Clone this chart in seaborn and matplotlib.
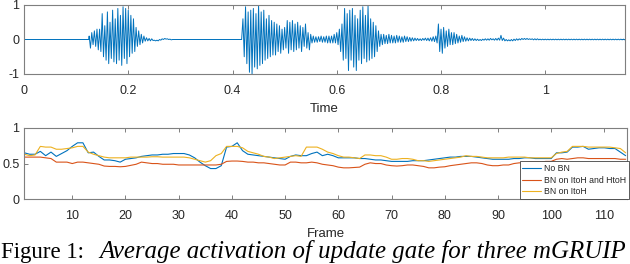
import numpy as np
import pandas as pd
import seaborn as sns
import matplotlib
matplotlib.use('Agg')
import matplotlib.pyplot as plt

# ---- top panel: waveform, read as upper / lower peak per 5 ms bin ----
wave_start = 0.125
wave_step = 0.005
wave_end = 1.153
wave_hi = [
    .10, .20, .25, .30, .30, .75, .40, .80, .50, .85,
    .60, .90, .70, .95, .90, .85, .70, .60, .35, .25,
    .15, .10, .05, .03, .02, -.02, -.02, .00, .02, .03,
    .02, .01] + [0.0] * 27 + [
    .60, .95, .80, .85, .90, .75, 1.0, .80, .85, .60,
    .70, .55, .50, .45, .40, .30, .35, .55, .50, .55,
    .45, .50, .40, .35, .45, .20, .15, .10, .08, .08,
    .10, .08, .10, .10, .10, .15, .20, .30, .45, .90,
    .75, .85, .90, .70, .60, .85, .95, .70, .97, .60,
    .50, .40, .25, .15, .15, .12, .15, .12, .10, .12,
    .10, .08, .10, .08, .06, .05, .04, .03, .02, .03,
    .04, .04, .05, .08, .10, .45, .30, .35, .25, .30,
    .20, .20, .15, .10, .12, .08, .05, .04, .03, .02,
    .01, .00, .01, .02, .02, .03, .02, .03, .04, .12,
    .04, .00, -.01, .00, .01, .02, .02, .03, .03, .03,
    .02, .02, .02, .02, .01] + [0.01] * 32
wave_lo = [
    -.25, -.15, -.20, -.30, -.35, -.50, -.60, -.70, -.55, -.65,
    -.70, -.60, -.75, -.55, -.70, -.50, -.40, -.35, -.20, -.15,
    -.10, -.05, -.04, -.04, -.03, -.04, -.04, -.02, .00, .01,
    .00, -.01] + [0.0] * 27 + [
    -.50, -.70, -.95, -1.0, -.80, -.85, -.75, -.70, -.60, -.55,
    -.50, -.45, -.45, -.35, -.40, -.30, -.25, -.40, -.30, -.35,
    -.30, -.25, -.35, -.20, -.25, -.30, -.10, -.08, -.08, -.06,
    -.08, -.08, -.10, -.10, -.10, -.10, -.15, -.35, -.60, -.55,
    -.90, -.60, -.80, -.90, -.60, -.70, -.55, -.65, -.60, -.55,
    -.50, -.35, -.20, -.15, -.12, -.12, -.10, -.10, -.10, -.08,
    -.08, -.08, -.06, -.06, -.05, -.04, -.03, -.03, -.03, -.02,
    -.03, -.04, -.05, -.06, -.10, -.35, -.40, -.25, -.20, -.15,
    -.15, -.12, -.10, -.08, -.06, -.05, -.04, -.03, -.03, -.03,
    -.03, -.03, -.02, -.02, -.02, -.01, -.02, -.02, -.02, -.03,
    -.04, -.04, -.04, -.04, -.03, -.02, -.01, .00, .00, .00,
    .00, -.01, -.01, -.01, -.01] + [-0.01] * 32

# ---- bottom panel: average update-gate activation per frame ----
frames = list(range(1, 115))
no_bn = [
    .65, .63, .63, .67, .61, .66, .60, .64, .68, .74,
    .79, .79, .65, .66, .60, .55, .55, .54, .52, .56,
    .57, .58, .60, .61, .62, .62, .63, .63, .64, .64,
    .64, .62, .58, .52, .47, .43, .43, .47, .73, .74,
    .79, .68, .63, .62, .61, .60, .59, .58, .57, .56,
    .60, .62, .61, .61, .64, .66, .61, .63, .61, .58,
    .58, .58, .58, .57, .57, .56, .55, .55, .54, .53,
    .53, .53, .53, .54, .54, .54, .55, .56, .57, .58,
    .59, .59, .60, .60, .60, .59, .58, .57, .56, .56,
    .56, .56, .57, .57, .58, .58, .57, .57, .57, .57,
    .65, .65, .66, .73, .73, .74, .70, .71, .72, .72,
    .71, .71, .66, .61]
bn_both = [
    .59, .59, .59, .59, .58, .57, .52, .52, .52, .50,
    .52, .52, .51, .50, .49, .465, .46, .46, .455, .46,
    .475, .49, .52, .51, .50, .50, .49, .49, .49, .48,
    .48, .48, .48, .48, .48, .48, .48, .49, .53, .535,
    .535, .53, .52, .52, .51, .51, .50, .49, .48, .48,
    .52, .52, .51, .51, .52, .51, .49, .48, .47, .45,
    .44, .44, .445, .45, .49, .51, .50, .50, .48, .47,
    .465, .47, .48, .48, .47, .46, .44, .44, .45, .455,
    .47, .48, .49, .50, .51, .51, .50, .48, .47, .47,
    .48, .48, .50, .51, .51, .52, .52, .52, .53, .53,
    .56, .57, .56, .57, .58, .58, .57, .57, .57, .57,
    .57, .57, .56, .56]
bn_itoh = [
    .63, .61, .62, .74, .73, .73, .70, .70, .71, .72,
    .74, .74, .66, .63, .61, .59, .58, .58, .58, .58,
    .59, .59, .59, .59, .595, .595, .59, .59, .59, .59,
    .59, .58, .56, .54, .52, .54, .61, .64, .74, .74,
    .74, .72, .67, .65, .63, .60, .59, .57, .58, .59,
    .60, .61, .60, .73, .73, .73, .70, .66, .64, .61,
    .59, .59, .58, .57, .62, .62, .61, .61, .59, .56,
    .56, .57, .57, .56, .54, .54, .53, .54, .55, .56,
    .57, .58, .59, .61, .60, .60, .59, .58, .58, .58,
    .58, .59, .59, .59, .59, .58, .58, .58, .58, .58,
    .64, .66, .67, .74, .74, .74, .73, .73, .73, .73,
    .73, .72, .71, .65]
series_names = ['No BN', 'BN on ItoH and HtoH', 'BN on ItoH']
colors = ['#0072BD', '#D95319', '#EDB120']

sns.set_theme(style='white')
plt.rcParams['font.family'] = ['Liberation Sans', 'DejaVu Sans']
plt.rcParams['axes.unicode_minus'] = False

fig = plt.figure(figsize=(6.3, 2.64), dpi=100)
ax = fig.add_axes([0.0381, 0.7197, 0.954, 0.2614])
ax2 = fig.add_axes([0.0387, 0.245, 0.9561, 0.271])

# waveform as zigzag between the read peaks
t_bins = wave_start + wave_step * np.arange(len(wave_hi))
wt = [0.0, wave_start - 0.001]
wy = [0.0, 0.0]
for t, hi, lo in zip(t_bins, wave_hi, wave_lo):
    wt += [t, t + wave_step / 2]
    wy += [hi, lo]
wave = pd.DataFrame({'Time': wt, 'amp': wy})
sns.lineplot(data=wave, x='Time', y='amp', ax=ax, color='#0072BD',
             linewidth=0.7, estimator=None, sort=False)

rows = []
for name, vals in zip(series_names, [no_bn, bn_both, bn_itoh]):
    for f, v in zip(frames, vals):
        rows.append((f, v, name))
gates = pd.DataFrame(rows, columns=['Frame', 'act', 'model'])
sns.lineplot(data=gates, x='Frame', y='act', hue='model', hue_order=series_names,
             palette=colors, linewidth=0.8, estimator=None, ax=ax2)

leg = ax2.get_legend()
handles = leg.legend_handles
labels = [t.get_text() for t in leg.get_texts()]
ax2.legend(handles, labels, loc='lower right', bbox_to_anchor=(1.003, 0.005),
           borderaxespad=0, fontsize=6.3, frameon=True, fancybox=False,
           framealpha=1, edgecolor='#404040', handlelength=2.1,
           handletextpad=0.35, labelspacing=0.3, borderpad=0.3)
ax2.get_legend().get_frame().set_linewidth(0.6)

ax.set_xlim(0, wave_end)
ax.set_ylim(-1, 1)
ax.set_xticks([0, 0.2, 0.4, 0.6, 0.8, 1])
ax.set_xticklabels(['0', '0.2', '0.4', '0.6', '0.8', '1'])
ax.set_yticks([-1, 0, 1])
ax.set_yticklabels(['-1', '0', '1'])
ax.set_xlabel('Time', fontsize=9.5, color='#262626')
ax.set_ylabel('')
ax.xaxis.set_label_coords(0.5, -0.42)

ax2.set_xlim(1, 114.2)
ax2.set_ylim(0, 1)
ax2.set_xticks(range(10, 111, 10))
ax2.set_yticks([0, 0.5, 1])
ax2.set_yticklabels(['0', '0.5', '1'])
ax2.set_xlabel('Frame', fontsize=9.5, color='#262626')
ax2.set_ylabel('')
ax2.xaxis.set_label_coords(0.5, -0.404)

for a in (ax, ax2):
    for s in a.spines.values():
        s.set_visible(True)
        s.set_color('#7f7f7f')
        s.set_linewidth(0.8)
    a.tick_params(direction='in', length=3, width=0.7, color='#7f7f7f',
                  labelsize=9, labelcolor='#262626', top=True, right=True,
                  bottom=True, left=True)
    a.tick_params(axis='x', pad=8)
    a.tick_params(axis='y', pad=3.5)

# caption under the panels
c1 = fig.text(0.002, 0.021, 'Figure 1: ', family='Liberation Serif', fontsize=16.5,
              va='baseline', color='black')
fig.canvas.draw()
bb = c1.get_window_extent()
fig.text(max(bb.x1, 99) / fig.bbox.width, 0.021,
         'Average activation of update gate for three mGRUIP',
         family='Liberation Serif', style='italic', fontsize=17.9,
         va='baseline', color='black')

fig.savefig('out.png', dpi=100)
